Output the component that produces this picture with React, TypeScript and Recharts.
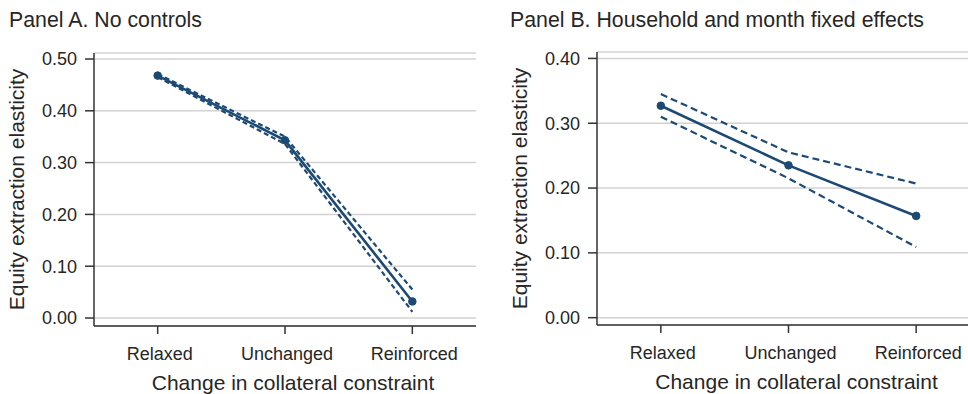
import React from 'react';
import { LineChart, Line, XAxis, YAxis, CartesianGrid, Label } from 'recharts';

const categories = ['Relaxed', 'Unchanged', 'Reinforced'];
const categoryPositions = [1, 2, 3];

const panelAEstimate = [0.468, 0.343, 0.032];
const panelAUpper = [0.471, 0.35, 0.055];
const panelALower = [0.465, 0.336, 0.012];
const panelATicks = [0, 0.1, 0.2, 0.3, 0.4, 0.5];

const panelBEstimate = [0.327, 0.235, 0.157];
const panelBUpper = [0.345, 0.255, 0.207];
const panelBLower = [0.31, 0.215, 0.109];
const panelBTicks = [0, 0.1, 0.2, 0.3, 0.4];

const FONT = '"Liberation Sans", Arial, Helvetica, sans-serif';
const NAVY = '#1c4a74';
const TEXT = '#262626';
const AXIS = '#333333';
const GRID = '#d2d2d2';

function buildRows(est: number[], hi: number[], lo: number[]) {
  return categoryPositions.map((x, i) => ({ x, est: est[i], hi: hi[i], lo: lo[i] }));
}

const YLabel = (props: any) => {
  const vb = props.viewBox || {};
  const cx = vb.x + vb.width - 70;
  const cy = vb.y + vb.height / 2;
  return (
    <text
      x={cx}
      y={cy}
      transform={`rotate(-90, ${cx}, ${cy})`}
      textAnchor="middle"
      fontSize={21}
      fontFamily={FONT}
      fill={TEXT}
    >
      Equity extraction elasticity
    </text>
  );
};

const XLabel = (props: any) => {
  const vb = props.viewBox || {};
  return (
    <text
      x={vb.x + vb.width / 2 + 8}
      y={vb.y + 64}
      textAnchor="middle"
      fontSize={21}
      fontFamily={FONT}
      fill={TEXT}
    >
      Change in collateral constraint
    </text>
  );
};

type PanelProps = {
  rows: any[];
  ticks: number[];
  domain: [number, number];
  width: number;
  height: number;
  yAxisWidth: number;
  top: number;
  bottom: number;
  right: number;
  dash: string;
};

function Panel({ rows, ticks, domain, width, height, yAxisWidth, top, bottom, right, dash }: PanelProps) {
  return (
    <LineChart
      width={width}
      height={height}
      data={rows}
      margin={{ top, right, bottom: 0, left: 0 }}
    >
      <CartesianGrid vertical={false} stroke={GRID} strokeWidth={1.5} />
      <XAxis
        dataKey="x"
        type="number"
        domain={[0.5, 3.5]}
        ticks={categoryPositions}
        tickFormatter={(v: number) => categories[v - 1]}
        allowDataOverflow
        height={bottom}
        stroke={AXIS}
        strokeWidth={1.5}
        tickSize={8}
        tickMargin={13}
        tick={{ fontSize: 18, fontFamily: FONT, fill: TEXT, dx: 2 }}
        tickLine={{ stroke: AXIS, strokeWidth: 1.5 }}
        interval={0}
      >
        <Label content={<XLabel />} />
      </XAxis>
      <YAxis
        type="number"
        domain={domain}
        ticks={ticks}
        allowDataOverflow
        width={yAxisWidth}
        tickFormatter={(v: number) => v.toFixed(2)}
        stroke={AXIS}
        strokeWidth={1.5}
        tickSize={9}
        tickMargin={8}
        tick={{ fontSize: 18, fontFamily: FONT, fill: TEXT }}
        tickLine={{ stroke: AXIS, strokeWidth: 1.5 }}
        interval={0}
      >
        <Label content={<YLabel />} />
      </YAxis>
      <Line
        dataKey="hi"
        stroke={NAVY}
        strokeWidth={2.2}
        strokeDasharray={dash}
        dot={false}
        activeDot={false}
        isAnimationActive={false}
      />
      <Line
        dataKey="lo"
        stroke={NAVY}
        strokeWidth={2.2}
        strokeDasharray={dash}
        dot={false}
        activeDot={false}
        isAnimationActive={false}
      />
      <Line
        dataKey="est"
        stroke={NAVY}
        strokeWidth={2.6}
        dot={{ r: 3.8, fill: NAVY, stroke: NAVY, strokeWidth: 1 }}
        activeDot={false}
        isAnimationActive={false}
      />
    </LineChart>
  );
}

const titleStyle: React.CSSProperties = {
  position: 'absolute',
  top: 10,
  fontFamily: FONT,
  fontSize: 21.3,
  lineHeight: '21px',
  color: TEXT,
  whiteSpace: 'nowrap',
};

export default function App() {
  const rowsA = buildRows(panelAEstimate, panelAUpper, panelALower);
  const rowsB = buildRows(panelBEstimate, panelBUpper, panelBLower);
  return (
    <div
      style={{
        position: 'fixed',
        left: 0,
        top: 0,
        width: 968,
        height: 394,
        overflow: 'hidden',
        background: '#ffffff',
      }}
    >
      <div style={{ ...titleStyle, left: 9 }}>Panel A. No controls</div>
      <div style={{ ...titleStyle, left: 510 }}>Panel B. Household and month fixed effects</div>
      <div style={{ position: 'absolute', left: 0, top: 0 }}>
        <Panel
          rows={rowsA}
          ticks={panelATicks}
          domain={[-0.0154, 0.5116]}
          width={484}
          height={394}
          yAxisWidth={94}
          top={53}
          bottom={68}
          right={8}
          dash="5 3"
        />
      </div>
      <div style={{ position: 'absolute', left: 484, top: 0 }}>
        <Panel
          rows={rowsB}
          ticks={panelBTicks}
          domain={[-0.0113, 0.4099]}
          width={500}
          height={394}
          yAxisWidth={113}
          top={52}
          bottom={69}
          right={4}
          dash="7 4"
        />
      </div>
    </div>
  );
}
